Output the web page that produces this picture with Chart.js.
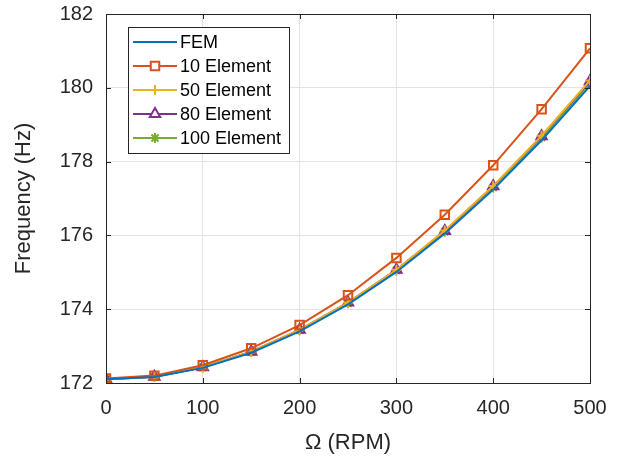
<!DOCTYPE html>
<html>
<head>
<meta charset="utf-8">
<script src="https://cdn.jsdelivr.net/npm/chart.js@4"></script>
<style>
  html, body { margin: 0; padding: 0; background: #fff; }
  #wrap { width: 619px; height: 456px; }
</style>
</head>
<body>
<div id="wrap"><canvas id="c" width="619" height="456"></canvas></div>
<script>
const rpm = [0, 50, 100, 150, 200, 250, 300, 350, 400, 450, 500];
const fem = [172.10, 172.16, 172.41, 172.82, 173.40, 174.13, 175.01, 176.05, 177.24, 178.58, 180.05];
const el10 = [172.12, 172.20, 172.48, 172.94, 173.57, 174.38, 175.39, 176.56, 177.90, 179.42, 181.07];
const el50 = [172.10, 172.17, 172.43, 172.85, 173.44, 174.18, 175.07, 176.13, 177.34, 178.70, 180.20];
const el80 = [172.10, 172.17, 172.43, 172.85, 173.44, 174.18, 175.07, 176.12, 177.33, 178.69, 180.18];
const el100 = [172.10, 172.17, 172.42, 172.84, 173.43, 174.16, 175.05, 176.10, 177.30, 178.65, 180.13];
const xTicks = [0, 100, 200, 300, 400, 500];
const yTicks = [172, 174, 176, 178, 180, 182];

const FONT = '"Liberation Sans", Arial, Helvetica, sans-serif';

function series(label, values, color, style, r) {
  return {
    label: label,
    data: rpm.map((x, i) => ({ x: x, y: values[i] })),
    borderColor: color,
    backgroundColor: color,
    borderWidth: 2,
    pointStyle: style || false,
    pointRadius: style ? r : 0,
    pointBorderWidth: 2,
    pointBackgroundColor: 'rgba(0,0,0,0)',
    tension: 0
  };
}

const datasets = [
  series('FEM', fem, '#0072BD', null, 0),
  series('10 Element', el10, '#D95319', 'rect', 6),
  series('50 Element', el50, '#EDB120', 'cross', 5),
  series('80 Element', el80, '#7E2F8E', 'triangle', 6),
  series('100 Element', el100, '#77AC30', 'star', 5)
];

// frame, inner ticks and boxed legend, matlab style
const matlabBox = {
  id: 'matlabBox',
  afterDatasetsDraw(chart) {
    const ctx = chart.ctx;
    const a = chart.chartArea;
    const xs = chart.scales.x, ys = chart.scales.y;
    ctx.save();
    ctx.strokeStyle = '#262626';
    ctx.lineWidth = 1;
    ctx.beginPath();
    xTicks.forEach(v => {
      const px = Math.round(xs.getPixelForValue(v)) + 0.5;
      ctx.moveTo(px, a.bottom); ctx.lineTo(px, a.bottom - 5);
      ctx.moveTo(px, a.top); ctx.lineTo(px, a.top + 5);
    });
    yTicks.forEach(v => {
      const py = Math.round(ys.getPixelForValue(v)) + 0.5;
      ctx.moveTo(a.left, py); ctx.lineTo(a.left + 5, py);
      ctx.moveTo(a.right, py); ctx.lineTo(a.right - 5, py);
    });
    ctx.stroke();
    ctx.strokeRect(Math.round(a.left) + 0.5, Math.round(a.top) + 0.5,
      Math.round(a.right - a.left), Math.round(a.bottom - a.top));

    // legend
    const lx = 128, ly = 27, lw = 161, lh = 126;
    ctx.fillStyle = '#fff';
    ctx.fillRect(lx, ly, lw, lh);
    ctx.strokeStyle = '#262626';
    ctx.strokeRect(lx + 0.5, ly + 0.5, lw, lh);
    ctx.font = '18px ' + FONT;
    ctx.textBaseline = 'middle';
    chart.data.datasets.forEach((ds, i) => {
      const y = ly + 15 + i * 24;
      ctx.strokeStyle = ds.borderColor;
      ctx.lineWidth = 2;
      ctx.beginPath();
      ctx.moveTo(lx + 5, y); ctx.lineTo(lx + 49, y);
      ctx.stroke();
      if (ds.pointStyle) {
        ctx.fillStyle = '#fff';
        Chart.helpers.drawPoint(ctx, {
          pointStyle: ds.pointStyle, radius: ds.pointRadius, rotation: 0, borderWidth: 2
        }, lx + 27, y);
      }
      ctx.fillStyle = '#000';
      ctx.fillText(ds.label, lx + 52, y + 1);
    });
    ctx.restore();
  }
};

new Chart(document.getElementById('c'), {
  type: 'line',
  data: { datasets: datasets },
  plugins: [matlabBox],
  options: {
    responsive: false,
    animation: false,
    layout: { padding: { top: 14, right: 29, left: 11, bottom: 0 } },
    plugins: { legend: { display: false }, tooltip: { enabled: false } },
    scales: {
      x: {
        type: 'linear', min: 0, max: 500,
        afterBuildTicks: s => { s.ticks = xTicks.map(v => ({ value: v })); },
        afterFit: s => { s.height = 73; s.paddingLeft = 0; s.paddingRight = 0; },
        grid: { color: '#e3e3e3', drawTicks: false, lineWidth: 1 },
        border: { display: false },
        ticks: { padding: 13, color: '#262626', font: { family: FONT, size: 20 } },
        title: { display: true, text: 'Ω (RPM)', color: '#262626', font: { family: FONT, size: 22 }, padding: { top: 0, bottom: 0 } }
      },
      y: {
        type: 'linear', min: 172, max: 182,
        afterBuildTicks: s => { s.ticks = yTicks.map(v => ({ value: v })); },
        afterFit: s => { s.width = 95; s.paddingTop = 0; s.paddingBottom = 0; },
        grid: { color: '#e3e3e3', drawTicks: false, lineWidth: 1 },
        border: { display: false },
        ticks: { padding: 13, color: '#262626', font: { family: FONT, size: 20 } },
        title: { display: true, text: 'Frequency (Hz)', color: '#262626', font: { family: FONT, size: 22 }, padding: { top: 0, bottom: 0 } }
      }
    }
  }
});
</script>
</body>
</html>
